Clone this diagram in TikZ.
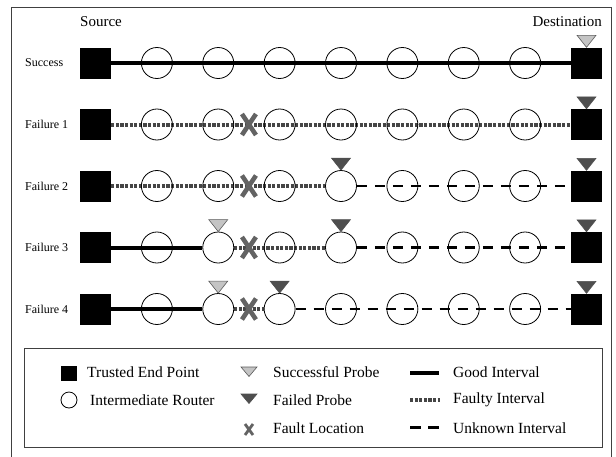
\documentclass[tikz,border=0pt]{standalone}
\usepackage{fontspec}
\setmainfont{Liberation Serif}
\usetikzlibrary{calc,backgrounds}
\definecolor{faultc}{HTML}{454545}
\definecolor{probeok}{HTML}{C4C4C4}
\definecolor{probebad}{HTML}{4E4E4E}
\definecolor{probeline}{HTML}{5A5A5A}
\definecolor{xcol}{HTML}{636363}
\definecolor{framec}{HTML}{404040}
\newcommand\probeat[2]{\path[#1] (#2.north) -- ++(-9.5,-12) -- ++(19,0) -- cycle;}
\newcommand\faultat[1]{\draw[faultx] ([shift={(-7,-10.5)}]#1) -- ([shift={(7,10.5)}]#1) ([shift={(-7,10.5)}]#1) -- ([shift={(7,-10.5)}]#1);}
\begin{document}
\begin{tikzpicture}[x=1pt,y=-1pt,
  endpt/.style={draw=none,fill=black,minimum size=31pt,inner sep=0pt},
  router/.style={circle,draw=black,line width=0.8pt,minimum size=31pt,inner sep=0pt},
  good/.style={line width=4pt,black},
  faulty/.style={line width=4pt,color=faultc,dash pattern=on 3.2pt off 1.4pt},
  unknown/.style={line width=2.5pt,black,dash pattern=on 10pt off 8pt},
  okprobe/.style={fill=probeok,draw=probeline,line width=0.6pt},
  badprobe/.style={fill=probebad,draw=probebad,line width=0.6pt},
  faultx/.style={line width=4.6pt,color=xcol},
  rowlab/.style={anchor=west,font=\fontsize{12}{14}\selectfont,inner sep=0pt},
  hdr/.style={font=\fontsize{15}{18}\selectfont,inner sep=0pt},
  leg/.style={anchor=west,font=\fontsize{15.5}{18}\selectfont,inner sep=0pt},
]
\useasboundingbox (0,0) rectangle (616,456);
% outer frame
\draw[framec,line width=0.9pt] (11,470) -- (11,7) -- (611.5,7) -- (611.5,470);

% headers
\node[hdr,anchor=west] (src) at (80,22) {Source};
\node[hdr,anchor=east] (dst) at (602,22) {Destination};

% rows of nodes
\foreach \r/\y in {1/63,2/124.5,3/186,4/247.5,5/309} {
  \node[endpt] (r\r n0) at (95.5,\y) {};
  \foreach \k in {1,...,7} {
    \node[router] (r\r n\k) at ({95.5+61.375*\k},\y) {};
  }
  \node[endpt] (r\r n8) at (586.5,\y) {};
  \coordinate (x\r) at ($(r\r n2)!0.5!(r\r n3)$);
}

% row labels
\node[rowlab] (lab1) at (25,63) {Success};
\node[rowlab] (lab2) at (25,124.5) {Failure 1};
\node[rowlab] (lab3) at (25,186) {Failure 2};
\node[rowlab] (lab4) at (25,247.5) {Failure 3};
\node[rowlab] (lab5) at (25,309) {Failure 4};

% intervals
\begin{pgfonlayer}{background}
  \draw[good] (r1n0) -- (r1n8);
  \draw[faulty] (r2n0) -- (r2n8);
  \draw[faulty] (r3n0) -- (r3n4);
  \draw[unknown] (r3n4) -- (r3n8);
  \draw[good] (r4n0) -- (r4n2);
  \draw[faulty] (r4n2) -- (r4n4);
  \draw[unknown] (r4n4) -- (r4n8);
  \draw[good] (r5n0) -- (r5n2);
  \draw[faulty] (r5n2) -- (r5n3);
  \draw[unknown] (r5n3) -- (r5n8);
\end{pgfonlayer}

% probes
\probeat{okprobe}{r1n8}
\probeat{badprobe}{r2n8}
\probeat{badprobe}{r3n4}
\probeat{badprobe}{r3n8}
\probeat{okprobe}{r4n2}
\probeat{badprobe}{r4n4}
\probeat{badprobe}{r4n8}
\probeat{okprobe}{r5n2}
\probeat{badprobe}{r5n3}
\probeat{badprobe}{r5n8}

% fault locations
\faultat{x2}
\faultat{x3}
\faultat{x4}
\faultat{x5}

% legend
\draw[framec,line width=0.9pt] (24,348) rectangle (602,447);
\node[fill=black,minimum size=15.5pt,inner sep=0pt] (legsq) at (69,373.5) {};
\node[leg] (legsqt) at (87,372.5) {Trusted End Point};
\node[circle,draw=black,line width=0.8pt,minimum size=16pt,inner sep=0pt] (legci) at (69,400) {};
\node[leg] (legcit) at (90,400) {Intermediate Router};
\coordinate (legok) at (249,367);
\path[okprobe] (legok) -- ++(-8,0) -- ++(8,9.5) -- ++(8,-9.5) -- cycle;
\node[leg] (legokt) at (273,372.5) {Successful Probe};
\coordinate (legbad) at (249,394);
\path[badprobe] (legbad) -- ++(-8,0) -- ++(8,9.5) -- ++(8,-9.5) -- cycle;
\node[leg] (legbadt) at (273,400) {Failed Probe};
\coordinate (legx) at (249,429.5);
\draw[faultx,line width=2.8pt] ([shift={(-4,-5.5)}]legx) -- ([shift={(4,5.5)}]legx) ([shift={(-4,5.5)}]legx) -- ([shift={(4,-5.5)}]legx);
\node[leg] (legxt) at (273,428.5) {Fault Location};
\coordinate (lg1a) at (410,373); \coordinate (lg1b) at (439,373);
\draw[good] (lg1a) -- (lg1b);
\node[leg] (lg1t) at (453,372.5) {Good Interval};
\coordinate (lg2a) at (410,400); \coordinate (lg2b) at (440,400);
\draw[faulty] (lg2a) -- (lg2b);
\node[leg] (lg2t) at (453,400) {Faulty Interval};
\coordinate (lg3a) at (410,427.5); \coordinate (lg3b) at (440,427.5);
\draw[unknown,dash pattern=on 11pt off 7pt] (lg3a) -- (lg3b);
\node[leg] (lg3t) at (453,428.5) {Unknown Interval};
\end{tikzpicture}
\end{document}
